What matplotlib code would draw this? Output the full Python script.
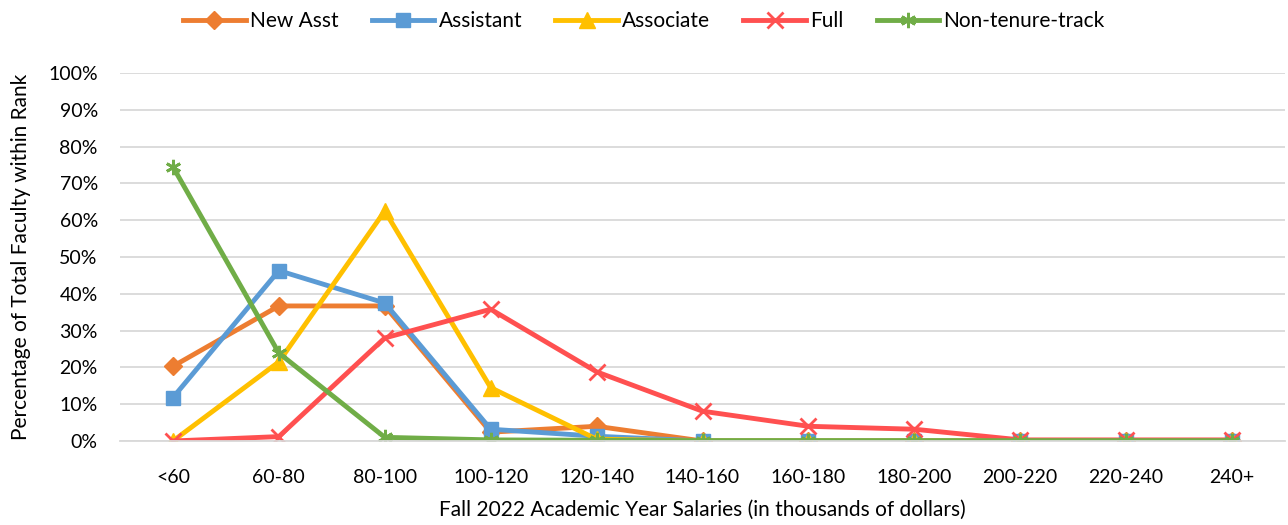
import numpy as np
import matplotlib.pyplot as plt

plt.rcParams['font.family'] = ['Lato', 'DejaVu Sans']

categories = ['<60', '60-80', '80-100', '100-120', '120-140', '140-160',
              '160-180', '180-200', '200-220', '220-240', '240+']

new_asst = [20.3, 36.7, 36.7, 2.4, 4.0, 0, 0, 0, 0, 0, 0]
assistant = [11.8, 46.3, 37.5, 3.2, 1.3, 0, 0, 0, 0, 0, 0]
associate = [0, 21.5, 62.5, 14.5, 0.5, 0, 0, 0, 0, 0, 0]
full = [0, 1.2, 28.0, 35.8, 18.8, 8.1, 4.0, 3.2, 0.3, 0.3, 0.3]
non_tenure = [74.5, 23.9, 1.0, 0.3, 0.2, 0.1, 0.1, 0.1, 0.1, 0.1, 0.1]

series = [
    ('New Asst', new_asst, '#ED7D31', 'D', 9),
    ('Assistant', assistant, '#5B9BD5', 's', 10),
    ('Associate', associate, '#FFC000', '^', 11),
    ('Full', full, '#FF5050', 'x', 11),
    ('Non-tenure-track', non_tenure, '#70AD47', (6, 2, 0), 11),
]

fig = plt.figure(figsize=(12.88, 5.25), dpi=100)
ax = fig.add_axes([120 / 1288, 84 / 525, 1165 / 1288, 368 / 525])

x = np.arange(len(categories))
for name, vals, color, marker, ms in series:
    ax.plot(x, np.array(vals) / 100, color=color, lw=3.5, marker=marker,
            markersize=ms, markeredgewidth=2 if marker in ('x', (6, 2, 0)) else 1,
            markeredgecolor=color, label=name)

ax.set_xlim(-0.5, len(categories) - 0.5)
ax.set_ylim(0, 1.0)
ax.set_xticks(x)
ax.set_xticklabels(categories)
ax.set_yticks(np.arange(0, 1.01, 0.1))
ax.set_yticklabels([f'{int(round(v * 100))}%' for v in np.arange(0, 1.01, 0.1)])
ax.tick_params(axis='both', labelsize=14, length=0)
ax.tick_params(axis='x', pad=20)
ax.tick_params(axis='y', pad=16)
ax.grid(axis='y', color='#d9d9d9', lw=1.3)
ax.set_axisbelow(True)
for s in ['top', 'right', 'left']:
    ax.spines[s].set_visible(False)
ax.spines['bottom'].set_color('#d9d9d9')
ax.spines['bottom'].set_linewidth(1.3)

ax.set_xlabel('Fall 2022 Academic Year Salaries (in thousands of dollars)', fontsize=15, labelpad=10)
ax.set_ylabel('Percentage of Total Faculty within Rank', fontsize=15, labelpad=12)

fig.legend(loc='upper center', bbox_to_anchor=(0.5, 1.015), ncol=5, frameon=False,
           fontsize=15, handlelength=3, columnspacing=1.6, handletextpad=0.2)

fig.savefig('out.png', dpi=100)
